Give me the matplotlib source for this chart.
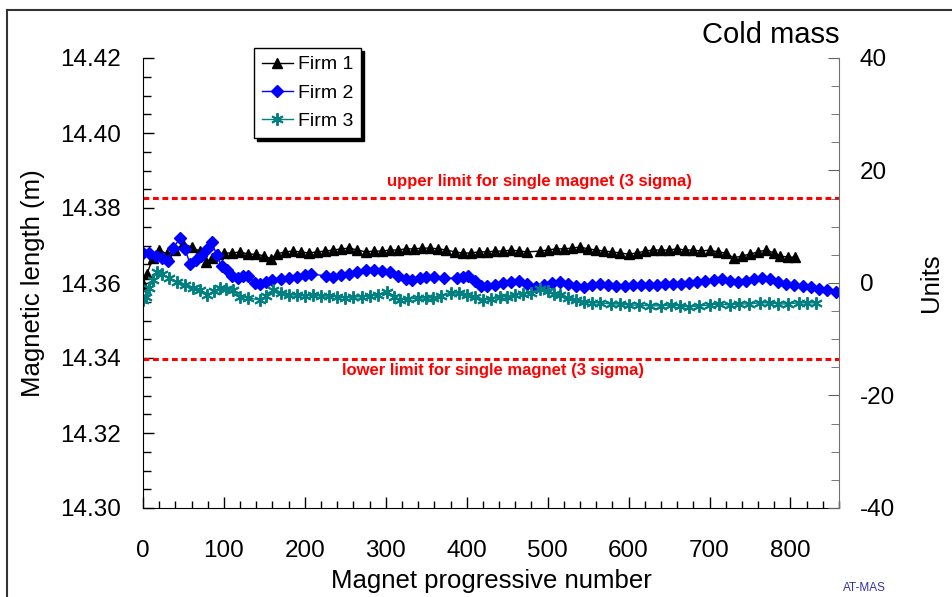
import matplotlib.pyplot as plt
from matplotlib.lines import Line2D
from matplotlib.ticker import MultipleLocator, FormatStrFormatter

plt.rcParams['font.family'] = ['Liberation Sans', 'DejaVu Sans']
plt.rcParams['axes.unicode_minus'] = False

# magnet progressive number and magnetic length (m) per firm
firm1_n = [0, 5, 12, 20,
           30, 40, 50, 60, 70, 78, 85, 93, 100, 110, 120, 130, 140, 150,
           158, 165,
           175, 185, 195, 205, 215, 225, 235, 245, 255, 265, 275, 285, 295, 305, 315, 325,
           335, 345, 355, 365, 375, 385, 395, 405, 415, 425, 435, 445, 455, 465, 475,
           490, 500,
           510, 520, 530, 540, 550, 560, 570, 580, 590, 600, 610, 620, 630, 640,
           650, 660, 670, 680, 690, 700, 710, 720, 730, 740, 750, 760, 770, 780,
           787, 797, 806]
firm1_len = [14.3597, 14.3624, 14.3667, 14.3688,
             14.3677, 14.3688, 14.3704, 14.3696, 14.3685, 14.3656, 14.3667, 14.3677, 14.3680,
             14.3680, 14.3683, 14.3677, 14.3677, 14.3672,
             14.3664, 14.3677,
             14.3683, 14.3685, 14.3683, 14.3680, 14.3683, 14.3685, 14.3688, 14.3691, 14.3693,
             14.3688, 14.3683, 14.3685, 14.3685, 14.3688, 14.3688, 14.3691,
             14.3691, 14.3693, 14.3693, 14.3691, 14.3688, 14.3683, 14.3680, 14.3680, 14.3683,
             14.3683, 14.3685, 14.3685, 14.3688, 14.3685, 14.3683,
             14.3685, 14.3688,
             14.3691, 14.3691, 14.3693, 14.3696, 14.3691, 14.3688, 14.3685, 14.3683, 14.3680,
             14.3677, 14.3680, 14.3685, 14.3688, 14.3688,
             14.3688, 14.3691, 14.3688, 14.3688, 14.3685, 14.3688, 14.3683, 14.3680, 14.3667,
             14.3672, 14.3677, 14.3683, 14.3688, 14.3680,
             14.3672, 14.3669, 14.3669]

firm2_n = [0, 8, 16, 24, 31, 37, 46, 52, 58, 65,
           72, 79, 85, 91, 97, 104, 110, 117, 124, 130,
           138, 145, 152, 160, 170, 180, 190, 200, 208, 226,
           235, 245, 255, 265, 276, 285, 295, 305, 315, 325,
           333, 342, 350, 360, 372, 388, 395, 402, 410, 418,
           425, 435, 445, 455, 465, 475, 485, 495, 505, 515,
           525, 535, 545, 555, 565, 575, 585, 595, 605, 615,
           625, 635, 645, 655, 665, 675, 685, 695, 705, 715,
           725, 735, 745, 755, 765, 775, 785, 795, 805, 815,
           825, 835, 845, 856]
firm2_len = [14.3680, 14.3680, 14.3672, 14.3667, 14.3659, 14.3693, 14.3720, 14.3691, 14.3651, 14.3661,
             14.3672, 14.3691, 14.3709, 14.3675, 14.3645, 14.3635, 14.3619, 14.3613, 14.3619, 14.3619,
             14.3600, 14.3597, 14.3603, 14.3608, 14.3611, 14.3613, 14.3616, 14.3621, 14.3624, 14.3619,
             14.3616, 14.3621, 14.3624, 14.3629, 14.3635, 14.3635, 14.3632, 14.3629, 14.3619, 14.3611,
             14.3608, 14.3613, 14.3616, 14.3616, 14.3613, 14.3613, 14.3616, 14.3619, 14.3605, 14.3592,
             14.3592, 14.3595, 14.3600, 14.3603, 14.3605, 14.3597, 14.3589, 14.3595, 14.3600, 14.3603,
             14.3597, 14.3592, 14.3589, 14.3595, 14.3597, 14.3595, 14.3592, 14.3592, 14.3595, 14.3595,
             14.3595, 14.3595, 14.3597, 14.3597, 14.3597, 14.3600, 14.3603, 14.3605, 14.3608, 14.3611,
             14.3605, 14.3603, 14.3605, 14.3611, 14.3613, 14.3611, 14.3603, 14.3597, 14.3595, 14.3592,
             14.3589, 14.3584, 14.3581, 14.3576]

firm3_n = [0, 4, 8, 12, 17, 24, 32, 42, 52, 62,
           70, 79, 88, 95, 103, 111, 120, 130, 144, 152,
           161, 170, 180, 190, 200, 210, 220, 230, 240, 250,
           260, 270, 280, 290, 301, 310, 317, 328, 340, 350,
           358, 368, 380, 391, 400, 410, 420, 430, 441, 450,
           460, 470, 480, 490, 500, 508, 515, 525, 535, 545,
           555, 565, 578, 589, 600, 613, 626, 640, 652, 663,
           675, 687, 700, 712, 725, 737, 749, 762, 774, 785,
           797, 810, 820, 832]
firm3_len = [14.3555, 14.3563, 14.3587, 14.3608, 14.3629, 14.3624, 14.3613, 14.3603, 14.3595, 14.3587,
             14.3581, 14.3568, 14.3579, 14.3587, 14.3584, 14.3581, 14.3563, 14.3560, 14.3555, 14.3565,
             14.3581, 14.3573, 14.3568, 14.3568, 14.3565, 14.3568, 14.3565, 14.3565, 14.3563, 14.3560,
             14.3563, 14.3563, 14.3565, 14.3568, 14.3576, 14.3563, 14.3555, 14.3557, 14.3560, 14.3560,
             14.3560, 14.3565, 14.3573, 14.3573, 14.3568, 14.3563, 14.3555, 14.3557, 14.3563, 14.3563,
             14.3568, 14.3571, 14.3573, 14.3584, 14.3579, 14.3571, 14.3568, 14.3560, 14.3555, 14.3549,
             14.3547, 14.3547, 14.3544, 14.3544, 14.3541, 14.3541, 14.3539, 14.3539, 14.3541, 14.3539,
             14.3536, 14.3539, 14.3541, 14.3544, 14.3541, 14.3544, 14.3544, 14.3547, 14.3547, 14.3544,
             14.3544, 14.3547, 14.3547, 14.3547]

upper_limit = 14.3827
lower_limit = 14.3397

fig = plt.figure(figsize=(9.52, 5.97), dpi=100)
ax = fig.add_axes([143 / 952, 1 - 508 / 597, 696 / 952, 450 / 597])

ax.plot(firm1_n, firm1_len, color='black', lw=1, marker='^', ms=7.5, label='Firm 1')
ax.plot(firm2_n, firm2_len, color='#0000ff', lw=1, marker='D', ms=6, label='Firm 2')
ax.plot(firm3_n, firm3_len, color='#008080', lw=1, marker=(6, 2, 0), ms=9, mew=1.4, label='Firm 3')

# 3 sigma limits for a single magnet
for lim in (upper_limit, lower_limit):
    ax.axhline(lim, color='red', lw=2.2, linestyle=(0, (1.9, 1.2)))
ax.text(490, 14.3872, 'upper limit for single magnet (3 sigma)', color='red',
        fontsize=12, fontweight='bold', ha='center', va='center')
ax.text(433, 14.3368, 'lower limit for single magnet (3 sigma)', color='red',
        fontsize=12, fontweight='bold', ha='center', va='center')

ax.set_xlim(0, 860)
ax.set_ylim(14.30, 14.42)
ax.xaxis.set_major_locator(MultipleLocator(100))
ax.xaxis.set_minor_locator(MultipleLocator(20))
ax.yaxis.set_major_locator(MultipleLocator(0.02))
ax.yaxis.set_minor_locator(MultipleLocator(0.005))
ax.yaxis.set_major_formatter(FormatStrFormatter('%.2f'))
ax.tick_params(which='both', direction='in', top=False, right=False, labelsize=17.5)
ax.tick_params(axis='y', which='major', length=8, width=1, pad=16)
ax.tick_params(axis='y', which='minor', length=6, width=1)
ax.tick_params(axis='x', which='major', length=8, width=1, pad=23)
ax.tick_params(axis='x', which='minor', length=5, width=1)
ax.spines['top'].set_visible(False)
ax.spines['right'].set_visible(False)
ax.set_xlabel('Magnet progressive number', fontsize=18.5, labelpad=5)
ax.set_ylabel('Magnetic length (m)', fontsize=18.5, labelpad=11)

ax2 = ax.twinx()
ax2.set_ylim(-40, 40)
ax2.yaxis.set_major_locator(MultipleLocator(20))
ax2.yaxis.set_minor_locator(MultipleLocator(5))
ax2.tick_params(which='both', direction='in', labelsize=17.5, color='#606060')
ax2.tick_params(which='major', length=8, pad=15)
ax2.tick_params(which='minor', length=6)
for side in ('left', 'top', 'bottom'):
    ax2.spines[side].set_visible(False)
ax2.spines['right'].set_color('#707070')
ax2.set_ylabel('Units', fontsize=18.5, labelpad=17)

leg = ax.legend(loc='upper left', bbox_to_anchor=(254 / 952, 1 - 48 / 597),
                bbox_transform=fig.transFigure, borderaxespad=0, fontsize=14,
                fancybox=False, edgecolor='black', framealpha=1,
                shadow={'color': 'black', 'alpha': 1},
                borderpad=0.4, labelspacing=0.55, handlelength=1.6, handletextpad=0.25)
leg.get_frame().set_linewidth(1)

fig.text(840 / 952, 1 - 43 / 597, 'Cold mass', ha='right', va='baseline', fontsize=21)
fig.text(864 / 952, 1 - 588 / 597, 'AT-MAS', ha='center', va='center', fontsize=8.5, color='#3333aa')

# partial frame around the sheet
fig.add_artist(Line2D([7 / 952, 7 / 952], [0, 1 - 10 / 597], transform=fig.transFigure,
                      color='#333333', lw=1.5))
fig.add_artist(Line2D([7 / 952, 1], [1 - 10 / 597, 1 - 10 / 597], transform=fig.transFigure,
                      color='#333333', lw=1.5))

fig.savefig('out.png', dpi=100)
